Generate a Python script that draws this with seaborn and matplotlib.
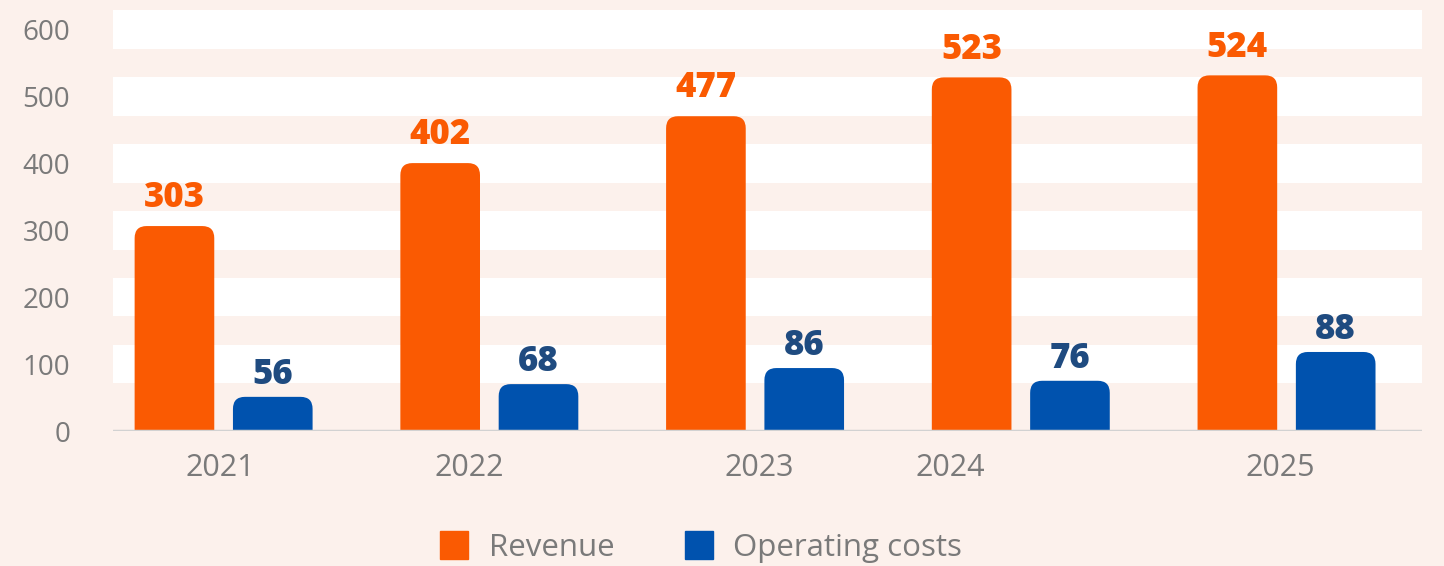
import pandas as pd
import seaborn as sns
import matplotlib.pyplot as plt
import matplotlib.transforms as mtransforms
from matplotlib.patches import FancyBboxPatch
from matplotlib.lines import Line2D

years = ["2021", "2022", "2023", "2024", "2025"]
revenue = [306, 400, 470, 528, 531]
costs = [51, 70, 94, 75, 118]
revenue_labels = ["303", "402", "477", "523", "524"]
costs_labels = ["56", "68", "86", "76", "88"]
series = ["Revenue", "Operating costs"]

orange = "#FA5A02"
blue = "#0052AE"
navy = "#1F4B80"
bg = "#FCF1EC"
grey = "#7A7A7A"

df = pd.DataFrame({
    "year": years * 2,
    "value": revenue + costs,
    "series": [series[0]] * len(years) + [series[1]] * len(years),
})

sns.set_style("white")
plt.rcParams["font.family"] = ["Open Sans", "DejaVu Sans"]

fig = plt.figure(figsize=(14.44, 5.66), dpi=100, facecolor=bg)
ax = fig.add_axes([0.0783, 0.2385, 0.9065, 0.7455])
ax.set_facecolor(bg)

sns.barplot(data=df, x="year", y="value", hue="series", order=years,
            hue_order=series, palette=[orange, blue], width=0.74, gap=0.19,
            saturation=1, legend=False, ax=ax, zorder=2)

ax.set_xlim(-0.416, 4.51)
ax.set_ylim(0, 630)

# white bands behind the bars
for v in range(100, 700, 100):
    ax.axhspan(v - 29, v + 29, color="white", zorder=0, lw=0)

# rounded tops: swap each bar for a rounded box that runs below 0 (clipped)
r = 0.045
aspect = 400
below = r * aspect
for cont in ax.containers:
    for p in cont:
        x, w, h = p.get_x(), p.get_width(), p.get_height()
        p.set_visible(False)
        ax.add_patch(FancyBboxPatch((x, -below), w, h + below,
                                    boxstyle=f"round,pad=0,rounding_size={r}",
                                    mutation_aspect=aspect, fc=p.get_facecolor(),
                                    ec="none", zorder=2))

# value labels
for cont, labels, col, off in zip(ax.containers, [revenue_labels, costs_labels],
                                  [orange, navy], [7, 3]):
    for bar, lab in zip(cont, labels):
        ax.annotate(lab, (bar.get_x() + bar.get_width() / 2, bar.get_height()),
                    xytext=(0, off), textcoords="offset points", ha="center", va="bottom",
                    fontsize=25, fontweight="heavy", color=col, zorder=3)

ax.axhline(0, color="#D2D2D2", lw=2.5, zorder=3)
for s in ax.spines.values():
    s.set_visible(False)

ax.set_xlabel("")
ax.set_ylabel("")
ax.set_yticks(range(0, 700, 100))
ax.tick_params(axis="y", length=0, pad=31, labelsize=20, labelcolor=grey)
ax.tick_params(axis="x", length=0, pad=16, labelsize=22, labelcolor=grey)

# the year labels sit a little off their groups in the original
shifts = [-3, -20, 4, -70, -6]
for lab, dx in zip(ax.get_xticklabels(), shifts):
    lab.set_transform(lab.get_transform() + mtransforms.ScaledTranslation(dx / 100, 0, fig.dpi_scale_trans))

handles = [Line2D([], [], marker="s", ls="", markersize=20, color=c) for c in [orange, blue]]
fig.legend(handles, series, loc="center", bbox_to_anchor=(0.485, 0.032), ncol=2,
           frameon=False, fontsize=22.5, labelcolor=grey, handletextpad=0.6,
           columnspacing=2.2, handlelength=1.0)

fig.savefig("out.png", dpi=100, facecolor=bg)
